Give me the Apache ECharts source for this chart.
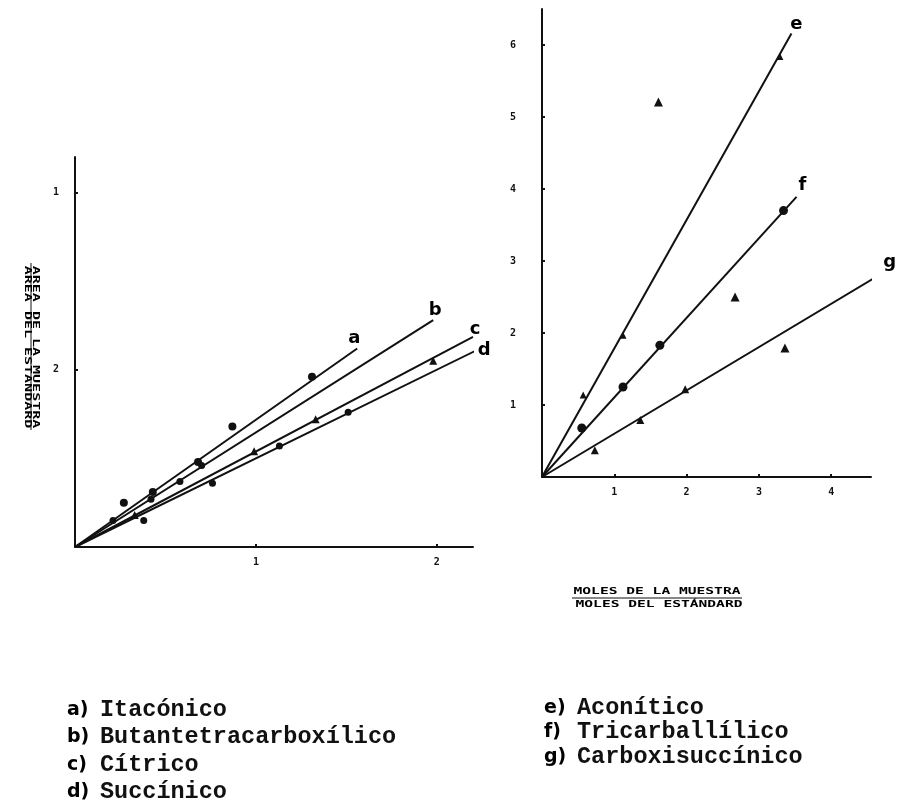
<!DOCTYPE html>
<html>
<head>
<meta charset="utf-8">
<script src="https://cdn.jsdelivr.net/npm/echarts@6/dist/echarts.min.js"></script>
<style>
  html, body { margin: 0; padding: 0; background: #fff; }
  #chart { width: 897px; height: 807px; }
</style>
</head>
<body>
<div id="chart"></div>
<script>
// ---- Left panel: area ratio vs mole ratio (a–d) ----
const leftXTicks = ['', '1', '2'];
const leftYTicks = ['', '2', '1'];

const itaconicoPts = [[0.27, 0.25], [0.43, 0.31], [0.68, 0.48], [0.87, 0.68], [1.31, 0.96]];
const butanoPts    = [[0.21, 0.15], [0.42, 0.27], [0.58, 0.37], [0.70, 0.46]];
const citricoPts   = [[0.33, 0.18], [0.99, 0.54], [1.33, 0.72], [1.98, 1.05]];
const succinicoPts = [[0.38, 0.15], [0.76, 0.36], [1.13, 0.57], [1.51, 0.76]];

const itaconicoEnd = [1.56, 1.12];
const butanoEnd    = [1.98, 1.28];
const citricoEnd   = [2.20, 1.185];
const succinicoEnd = [2.24, 1.12];

// ---- Right panel (e–g) ----
const rightXTicks = ['', '1', '2', '3', '4'];
const rightYTicks = ['', '1', '2', '3', '4', '5', '6'];

const aconiticoPts   = [[0.57, 1.14], [1.12, 1.97], [3.29, 5.84]];
const tricarbPts     = [[0.55, 0.68], [1.12, 1.25], [1.63, 1.83], [3.34, 3.70]];
const carboxisucPts  = [[0.73, 0.37], [1.36, 0.79], [1.98, 1.22]];
const sueltosPts     = [[1.61, 5.21], [2.67, 2.50], [3.36, 1.79]];

const aconiticoEnd  = [3.45, 6.16];
const tricarbEnd    = [3.52, 3.89];
const carboxisucEnd = [4.74, 2.85];

// ---- Legend text ----
const leftKeys   = ['a)', 'b)', 'c)', 'd)'];
const leftNames  = ['Itacónico', 'Butantetracarboxílico', 'Cítrico', 'Succínico'];
const rightKeys  = ['e)', 'f)', 'g)'];
const rightNames = ['Aconítico', 'Tricarballílico', 'Carboxisuccínico'];

const INK = '#111';

function tickFmt(labels) {
  return v => (Number.isInteger(v) && labels[v] !== undefined) ? labels[v] : '';
}

function axisBase(gridIndex, min, max, labels, margin) {
  return {
    type: 'value', gridIndex, min, max, interval: 1,
    axisLine: { show: true, lineStyle: { color: INK, width: 2 } },
    axisTick: { show: true, inside: true, length: 3, lineStyle: { color: INK, width: 2 } },
    splitLine: { show: false },
    axisLabel: {
      formatter: tickFmt(labels), margin,
      color: INK, fontSize: 10, fontWeight: 'bold', fontFamily: 'DejaVu Sans Mono',
      showMaxLabel: false
    }
  };
}

function fitLine(end, xi, yi, letter, offset) {
  return [
    {
      type: 'line', xAxisIndex: xi, yAxisIndex: yi, clip: false,
      data: [[0, 0], end], showSymbol: false, symbol: 'none',
      lineStyle: { color: INK, width: 2 }, silent: true, z: 2
    },
    {
      type: 'scatter', xAxisIndex: xi, yAxisIndex: yi, clip: false,
      data: [end], symbolSize: 0, silent: true, z: 4,
      itemStyle: { opacity: 1 },
      label: {
        show: true, position: 'inside', offset, formatter: letter,
        color: '#000', opacity: 1, fontSize: 18, fontWeight: 900, fontFamily: 'DejaVu Sans'
      }
    }
  ];
}

function pts(data, xi, yi, symbol, size) {
  return {
    type: 'scatter', xAxisIndex: xi, yAxisIndex: yi, clip: false,
    data, symbol, symbolSize: size,
    itemStyle: { color: INK, opacity: 1 }, silent: true, z: 3
  };
}

// legend and axis-title text
const graphics = [];
leftKeys.forEach((k, i) => {
  const y = 710 + i * 27.3;
  graphics.push({ type: 'text', x: 67, y, style: { text: k, fill: '#000',
    font: 'bold 19px "DejaVu Sans"', textVerticalAlign: 'middle' } });
  graphics.push({ type: 'text', x: 100, y, style: { text: leftNames[i], fill: INK,
    font: 'bold 23.5px "Liberation Mono"', textVerticalAlign: 'middle' } });
});
rightKeys.forEach((k, i) => {
  const y = 708 + i * 24.5;
  graphics.push({ type: 'text', x: 544, y, style: { text: k, fill: '#000',
    font: 'bold 19px "DejaVu Sans"', textVerticalAlign: 'middle' } });
  graphics.push({ type: 'text', x: 577, y, style: { text: rightNames[i], fill: INK,
    font: 'bold 23.5px "Liberation Mono"', textVerticalAlign: 'middle' } });
});

// y title of left panel (fraction, reading downward)
graphics.push({ type: 'text', x: 35, y: 347, rotation: -Math.PI / 2, scaleY: 0.55,
  style: { text: 'AREA DE LA MUESTRA', fill: '#000', font: 'bold 15px "DejaVu Sans Mono"',
    textAlign: 'center', textVerticalAlign: 'middle' } });
graphics.push({ type: 'text', x: 27, y: 347, rotation: -Math.PI / 2, scaleY: 0.55,
  style: { text: 'AREA DEL ESTANDARD', fill: '#000', font: 'bold 15px "DejaVu Sans Mono"',
    textAlign: 'center', textVerticalAlign: 'middle' } });
graphics.push({ type: 'line', shape: { x1: 31, y1: 263, x2: 31, y2: 430 },
  style: { stroke: INK, lineWidth: 1 } });

// x title of right panel (fraction)
graphics.push({ type: 'text', x: 657, y: 592, scaleY: 0.6,
  style: { text: 'MOLES DE LA MUESTRA', fill: '#000', font: 'bold 14.6px "DejaVu Sans Mono"',
    textAlign: 'center', textVerticalAlign: 'middle' } });
graphics.push({ type: 'line', shape: { x1: 572, y1: 598, x2: 742, y2: 598 },
  style: { stroke: INK, lineWidth: 1.2 } });
graphics.push({ type: 'text', x: 659, y: 605, scaleY: 0.6,
  style: { text: 'MOLES DEL ESTÁNDARD', fill: '#000', font: 'bold 14.6px "DejaVu Sans Mono"',
    textAlign: 'center', textVerticalAlign: 'middle' } });

const option = {
  backgroundColor: '#fff',
  animation: false,
  grid: [
    { left: 75, top: 157, width: 398, height: 390 },
    { left: 542, top: 9, width: 329, height: 468 }
  ],
  xAxis: [
    axisBase(0, 0, 2.2, leftXTicks, 10),
    axisBase(1, 0, 4.55, rightXTicks, 10)
  ],
  yAxis: [
    axisBase(0, 0, 2.2, leftYTicks, 16),
    axisBase(1, 0, 6.5, rightYTicks, 26)
  ],
  graphic: graphics,
  series: [
    ...fitLine(itaconicoEnd, 0, 0, 'a', [-3, -10]),
    ...fitLine(butanoEnd, 0, 0, 'b', [2, -10]),
    ...fitLine(citricoEnd, 0, 0, 'c', [2, -8]),
    ...fitLine(succinicoEnd, 0, 0, 'd', [4, 2]),
    pts(itaconicoPts, 0, 0, 'circle', 8),
    pts(butanoPts, 0, 0, 'circle', 7),
    pts(citricoPts, 0, 0, 'triangle', 8),
    pts(succinicoPts, 0, 0, 'circle', 7),

    ...fitLine(aconiticoEnd, 1, 1, 'e', [5, -9]),
    ...fitLine(tricarbEnd, 1, 1, 'f', [6, -12]),
    ...fitLine(carboxisucEnd, 1, 1, 'g', [5, -9]),
    pts(aconiticoPts, 1, 1, 'triangle', 7),
    pts(tricarbPts, 1, 1, 'circle', 9),
    pts(carboxisucPts, 1, 1, 'triangle', 8),
    pts(sueltosPts, 1, 1, 'triangle', 9)
  ]
};

echarts.init(document.getElementById('chart'), null, { renderer: 'canvas' }).setOption(option);
</script>
</body>
</html>
